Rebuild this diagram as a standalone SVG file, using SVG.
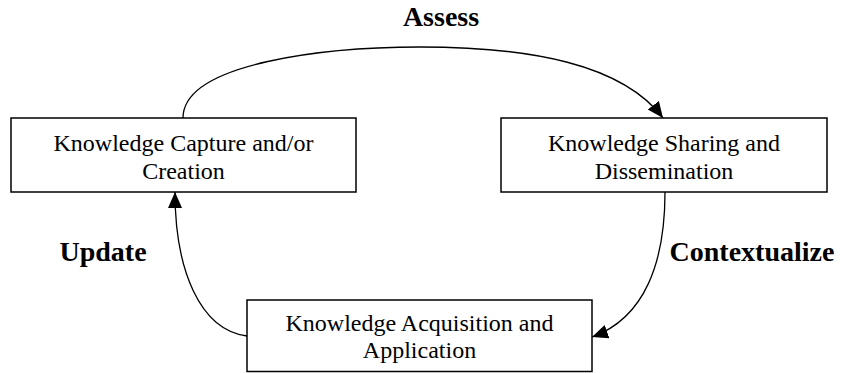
<svg xmlns="http://www.w3.org/2000/svg" width="841" height="373" viewBox="0 0 841 373">
<style>
.box{fill:#fff;stroke:#000;stroke-width:1.5}
.t{font-family:"Liberation Serif","Times New Roman",serif;font-size:24px;fill:#000;text-anchor:middle}
.lbl{font-family:"Liberation Serif","Times New Roman",serif;font-size:28px;font-weight:bold;fill:#000;text-anchor:middle}
.c{fill:none;stroke:#000;stroke-width:1.3}
</style>
<defs>
<marker id="ah" markerUnits="userSpaceOnUse" markerWidth="17" markerHeight="15" refX="16" refY="7" orient="auto">
<path d="M0,0 L16,7 L0,14 Z" fill="#000"/>
</marker>
</defs>
<rect width="841" height="373" fill="#fff"/>
<g id="connectors">
<path class="c" d="M183,118 C183,62 330,47 420,47 C530,47 622,64 663,118" marker-end="url(#ah)"/>
<path class="c" d="M665,192 C665,262 645,318 592,337" marker-end="url(#ah)"/>
<path class="c" d="M247,336 C200,330 175,270 175,192" marker-end="url(#ah)"/>
</g>
<g id="capture">
<rect class="box" x="11" y="118" width="345" height="74"/>
<text class="t" x="183.5" y="151">Knowledge Capture and/or</text>
<text class="t" x="183.5" y="179">Creation</text>
</g>
<g id="sharing">
<rect class="box" x="501" y="118" width="326" height="74"/>
<text class="t" x="664" y="151">Knowledge Sharing and</text>
<text class="t" x="664" y="179">Dissemination</text>
</g>
<g id="acquisition">
<rect class="box" x="247" y="300" width="345" height="71.5"/>
<text class="t" x="419.5" y="331">Knowledge Acquisition and</text>
<text class="t" x="419.5" y="358">Application</text>
</g>
<g id="labels">
<text class="lbl" x="441" y="26">Assess</text>
<text class="lbl" x="103" y="261">Update</text>
<text class="lbl" x="752" y="261">Contextualize</text>
</g>
</svg>
